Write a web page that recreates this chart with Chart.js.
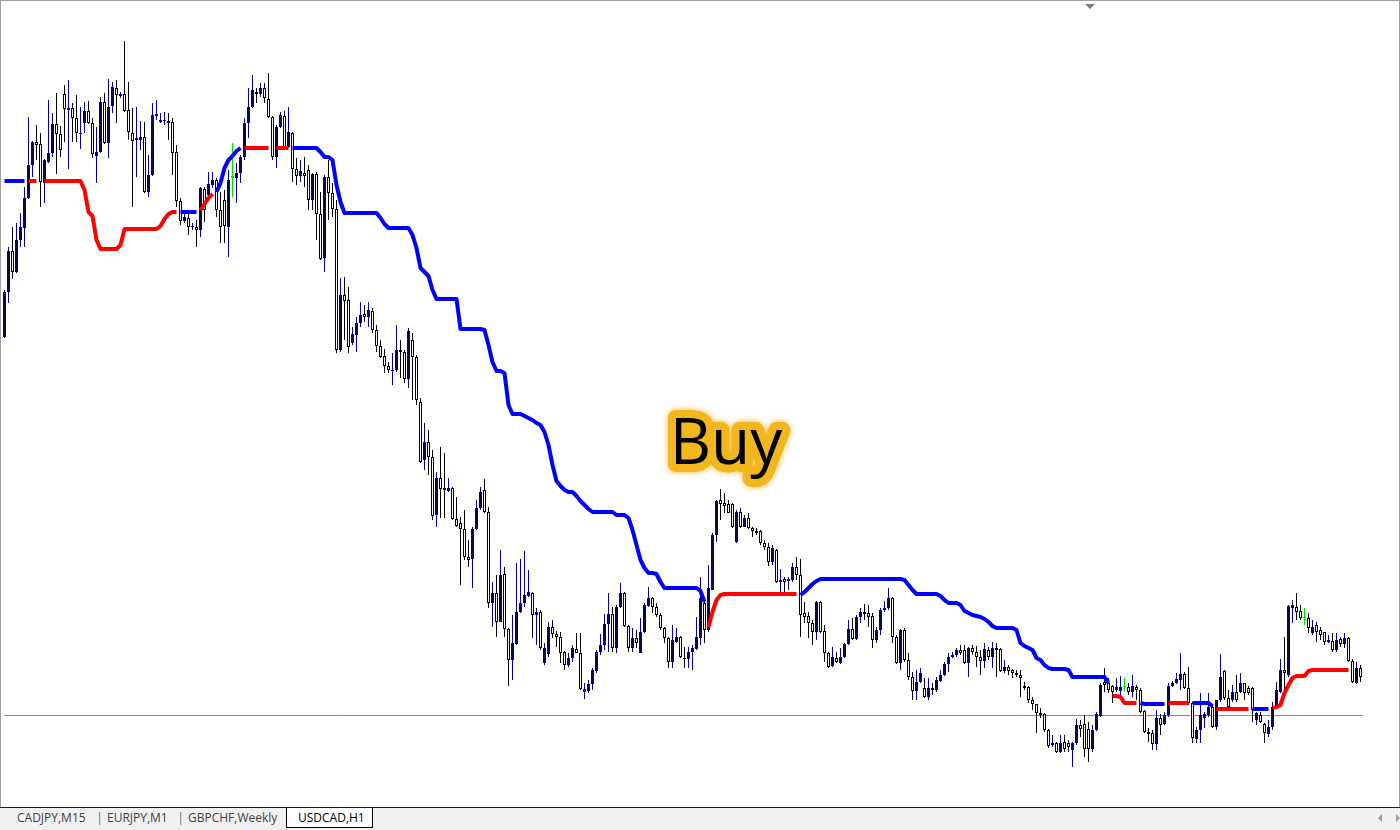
<!DOCTYPE html>
<html><head><meta charset="utf-8">
<script src="https://cdn.jsdelivr.net/npm/chart.js@4.4.1/dist/chart.umd.min.js"></script>
<style>
html,body{margin:0;padding:0;background:#fff;width:1400px;height:830px;overflow:hidden;font-family:"Open Sans",sans-serif}
#c{position:absolute;left:0;top:0}
.bl{position:absolute;background:#a0a0a0}
#tabbar{position:absolute;left:0;top:807px;width:1400px;height:23px;background:#f0f0f0;border-top:1px solid #1a1a1a;box-sizing:border-box}
.tab{position:absolute;top:810px;font-size:12px;line-height:16px;color:#404040;white-space:nowrap}
#active{position:absolute;left:286px;top:808px;width:87px;height:20px;background:#fff;border:1px solid #000;border-top:none;box-sizing:border-box}
.sep{position:absolute;top:809px;font-size:13px;line-height:17px;color:#707070}
#tri{position:absolute;left:1085px;top:4px;width:0;height:0;border-left:5px solid transparent;border-right:5px solid transparent;border-top:5px solid #7a7a8a}
.arl{position:absolute;top:814px;width:0;height:0;border-top:4px solid transparent;border-bottom:4px solid transparent}
</style></head>
<body>
<canvas id="c" width="1400" height="807"></canvas>
<div class="bl" style="left:0;top:0;width:1px;height:807px"></div>
<div class="bl" style="left:0;top:0;width:1400px;height:1px"></div>
<div class="bl" style="left:1399px;top:0;width:1px;height:807px"></div>
<div id="tri"></div>
<div id="tabbar"></div>
<div class="tab" style="left:17px">CADJPY,M15</div>
<div class="sep" style="left:96px">|</div>
<div class="tab" style="left:107px">EURJPY,M1</div>
<div class="sep" style="left:177px">|</div>
<div class="tab" style="left:188px">GBPCHF,Weekly</div>
<div id="active"></div>
<div class="tab" style="left:298px;color:#000">USDCAD,H1</div>
<div class="arl" style="left:1378px;border-right:4px solid #9a9a9a"></div>
<div class="arl" style="left:1396px;border-left:4px solid #9a9a9a"></div>
<script>
// USDCAD H1 price data (in points)
const candleOpen=[
663,708,749,728,760,772,802,835,858,856,
817,838,847,876,866,906,890,892,882,866,
877,889,877,844,848,898,857,894,912,904,
906,890,867,860,860,863,808,825,884,878,
879,879,878,848,799,779,782,773,773,770,
811,805,815,820,790,800,773,824,822,827,
843,877,893,908,906,912,901,883,843,873,
884,853,867,831,824,827,830,800,826,786,
742,823,807,791,650,705,700,657,665,677,
686,683,689,670,654,644,634,629,630,650,
648,621,660,643,598,540,558,543,485,522,
512,509,512,481,477,471,443,441,471,492,
510,488,397,407,378,426,371,340,356,388,
397,404,407,385,388,337,346,373,366,363,
348,335,342,351,347,308,309,316,329,348,
355,376,386,352,393,407,374,352,362,347,
368,394,402,393,385,372,362,338,358,363,
342,341,348,351,362,397,370,410,465,500,
497,496,496,458,488,473,482,472,469,469,
457,453,438,450,418,421,419,420,433,425,
387,384,377,368,398,369,347,334,342,337,
343,356,371,361,383,388,387,384,360,370,
390,392,402,363,337,370,340,323,309,318,
312,303,312,310,319,325,336,343,345,350,
350,337,352,348,343,339,350,343,352,351,
329,333,330,327,325,314,313,300,296,287,
286,270,255,257,248,258,257,250,257,275,
276,271,251,270,284,318,317,314,310,309,
314,313,308,313,310,289,268,267,256,282,
276,285,314,317,320,326,312,297,261,270,
282,285,293,273,300,329,302,300,308,308,
317,312,312,280,285,276,266,273,293,308,
330,325,392,393,389,383,382,367,375,370,
368,358,359,350,361,356,362,339,317,332];
const candleHigh=[
710,753,773,777,787,813,883,859,875,867,
841,900,887,907,874,915,920,897,905,893,
898,899,882,873,903,907,921,918,920,908,
959,918,892,893,879,878,845,897,900,887,
888,887,882,855,802,788,787,777,780,813,
813,828,828,822,808,810,830,857,837,845,
882,912,925,912,917,917,927,884,875,888,
889,893,868,842,840,843,835,827,828,808,
825,840,817,800,722,723,713,673,683,698,
695,698,692,675,660,651,638,647,675,660,
650,672,667,645,602,577,570,550,528,553,
547,522,513,503,483,490,460,473,500,513,
521,493,418,425,450,433,372,385,437,441,
449,430,408,392,390,357,378,380,369,368,
349,347,355,367,367,317,320,332,350,366,
386,407,393,395,417,408,375,372,370,382,
397,413,403,397,387,373,363,375,372,364,
353,353,355,383,423,400,435,467,500,511,
507,500,497,490,492,485,487,473,472,470,
460,457,455,451,431,423,423,437,443,441,
398,388,380,399,399,375,348,353,348,352,
357,380,382,385,392,396,395,387,373,392,
399,412,403,365,371,372,347,328,330,332,
322,322,317,323,330,338,347,348,352,355,
355,353,355,354,350,357,353,358,357,352,
340,335,331,330,330,318,314,303,296,292,
287,271,265,258,265,265,260,258,281,280,
285,278,275,288,317,332,322,315,322,324,
322,317,325,315,312,290,272,270,290,286,
288,317,319,327,347,328,333,298,273,307,
288,307,296,300,346,330,310,315,325,327,
317,314,313,288,288,277,280,298,318,341,
363,395,400,407,395,392,387,380,378,373,
368,365,367,367,363,367,363,341,338,335];
const candleLow=[
662,697,721,727,753,753,801,823,840,793,
797,837,843,826,843,858,831,858,858,851,
867,876,842,817,847,856,842,887,877,902,
888,860,793,823,850,807,803,824,880,877,
875,860,825,793,775,777,765,770,753,763,
778,802,812,783,757,757,743,803,797,817,
840,862,892,897,903,897,882,840,832,872,
852,852,818,815,818,813,790,790,760,740,
728,780,783,647,648,660,647,655,648,673,
678,673,667,648,642,627,627,615,628,622,
617,612,600,595,537,530,525,480,473,482,
482,508,480,473,415,440,433,412,470,490,
487,392,373,363,378,363,314,320,355,387,
393,403,362,355,350,335,343,362,353,337,
330,333,338,347,310,301,307,310,327,345,
350,348,348,347,392,373,348,348,352,347,
367,393,387,383,370,357,332,332,357,342,
332,332,330,350,355,357,368,410,458,480,
487,487,472,457,472,473,471,463,465,455,
450,434,435,417,408,408,410,418,420,363,
377,362,355,360,367,338,332,333,337,336,
342,355,360,360,377,380,373,352,357,365,
388,390,357,336,330,338,320,300,300,317,
302,300,305,308,318,324,328,342,343,345,
336,323,345,333,325,332,340,332,323,328,
327,325,322,323,303,310,297,290,267,282,
268,252,253,247,247,248,248,233,255,263,
243,238,248,269,283,308,307,297,308,305,
308,305,303,300,287,267,258,250,250,265,
275,283,313,316,310,311,295,257,257,257,
272,283,272,270,298,300,292,298,298,307,
300,305,278,275,277,257,263,270,293,307,
307,323,377,380,380,375,367,365,358,360,
355,357,348,348,353,352,338,317,316,318];
const candleClose=[
708,749,728,760,773,802,835,858,855,818,
840,847,876,866,850,891,892,882,867,867,
889,877,846,848,898,857,893,913,905,906,
889,868,859,862,863,808,825,885,886,880,
880,877,847,799,779,783,773,774,770,812,
790,816,820,790,773,774,820,822,827,843,
877,893,910,906,912,902,883,843,873,885,
853,868,831,824,829,824,800,826,786,741,
823,807,791,650,705,699,653,666,677,685,
683,690,670,654,643,634,630,630,650,648,
621,669,643,600,538,558,543,484,522,511,
510,512,481,474,471,443,440,471,492,508,
488,397,407,378,425,371,340,357,388,397,
405,408,385,388,352,352,373,366,363,347,
335,342,352,347,311,311,316,330,348,355,
376,386,352,393,407,374,352,362,357,368,
395,402,393,385,372,362,338,360,363,343,
341,348,352,363,402,370,412,465,499,496,
494,487,473,488,473,482,472,469,467,457,
453,438,452,418,420,418,421,433,425,385,
383,377,368,398,368,347,333,343,338,343,
356,371,361,383,388,386,383,360,370,390,
392,402,363,337,370,340,323,309,318,327,
303,312,310,320,325,336,343,345,350,347,
337,352,348,343,339,351,343,352,350,329,
333,329,327,325,322,312,300,296,287,285,
270,254,257,248,257,251,253,257,275,271,
251,251,270,286,315,315,310,308,313,313,
313,308,314,310,288,268,266,256,282,275,
285,314,317,321,326,312,297,262,270,285,
286,293,273,300,323,302,293,308,300,317,
307,307,290,287,278,267,273,293,310,330,
327,394,395,388,382,382,372,373,368,365,
358,360,350,360,356,362,339,318,332,323];
// trend stop level per bar
const stLevel=[
819,819,819,819,819,819,819,819,819,null,
819,819,819,819,819,819,819,819,819,819,
810,788,784,760,751,751,751,751,751,755,
771,771,771,771,771,771,771,771,771,774,
781,786,788,788,788,788,788,788,788,790,
796,802,806,808,817,832,840,844,849,852,
852,852,852,852,852,852,852,null,852,852,
852,852,852,852,852,852,852,852,852,848,
843,843,840,815,798,787,787,787,787,787,
787,787,787,787,782,776,772,772,772,772,
772,772,765,752,732,728,724,710,701,701,
701,701,701,701,671,671,671,671,671,671,
670,655,638,629,629,627,595,586,586,586,
584,582,580,577,575,568,555,535,519,514,
510,508,508,504,499,495,491,488,488,488,
488,488,488,485,485,485,482,470,455,440,
432,427,427,426,418,412,412,412,412,412,
412,412,412,412,409,398,373,388,400,405,
406,406,406,406,406,406,406,406,406,406,
406,406,406,406,406,406,406,406,406,405,
408,412,416,419,421,421,421,421,421,421,
421,421,421,421,421,421,421,421,421,421,
421,421,421,421,421,420,415,410,406,406,
406,406,406,406,404,400,397,397,397,395,
389,387,385,384,383,381,378,374,372,372,
372,372,372,370,357,354,352,350,342,340,
335,332,331,331,331,331,330,323,323,323,
323,323,323,323,323,323,317,304,304,303,
297,297,297,297,297,296,296,296,296,296,
296,297,297,297,297,297,297,297,297,297,
297,297,294,291,291,291,291,291,291,291,
291,291,291,291,291,291,291,292,293,295,
307,315,322,324,324,324,329,330,330,330,
330,330,330,330,330,330,330,null,null,null];
// trend direction runs: [direction, bars]  1 = up (red), -1 = down (blue), 0 = none
const trendRuns=[[-1,6],[1,3],[0,1],[1,34],[-1,5],[1,4],[-1,7],[1,7],[0,1],[1,4],[-1,104],[1,23],[-1,78],[1,7],[-1,7],[1,6],[-1,6],[1,9],[-1,5],[1,20],[0,3]];
const greenBars=[57,280,325];
const priceLevel=284.5;
const buyLabel={text:'Buy',bar:166.3,price:536};

const n=candleOpen.length;
const trendDir=[];
trendRuns.forEach(([d,c])=>{for(let k=0;k<c;k++)trendDir.push(d);});
const bodies=[],wicks=[],bodyFill=[],bodyBorder=[],wickCol=[];
for(let i=0;i<n;i++){
  bodies.push({x:i,y:[candleOpen[i],candleClose[i]]});
  wicks.push({x:i,y:[candleLow[i],candleHigh[i]]});
  const up=candleClose[i]>candleOpen[i];
  if(greenBars.includes(i)){bodyFill.push('#00e000');bodyBorder.push('#00e000');wickCol.push('#00e000');}
  else if(up){bodyFill.push('#0a0a40');bodyBorder.push('#000080');wickCol.push('#0000a0');}
  else{bodyFill.push('#ffffff');bodyBorder.push('#000000');wickCol.push('#000000');}
}
const upLine=stLevel.map((v,i)=>({x:i,y:trendDir[i]===1?v:null}));
const dnLine=stLevel.map((v,i)=>({x:i,y:trendDir[i]===-1?v:null}));

const buyPlugin={id:'buy',afterDatasetsDraw(chart){
  const ctx=chart.ctx,xs=chart.scales.x,ys=chart.scales.y;
  const px=xs.getPixelForValue(buyLabel.bar),py=ys.getPixelForValue(buyLabel.price);
  ctx.save();
  ctx.font='64px "Open Sans"';
  ctx.textAlign='left';ctx.textBaseline='alphabetic';
  ctx.lineJoin='round';
  ctx.shadowColor='rgba(240,176,20,0.9)';ctx.shadowBlur=6;
  ctx.strokeStyle='#f2b61e';ctx.lineWidth=16;
  ctx.strokeText(buyLabel.text,px,py);
  ctx.shadowBlur=0;ctx.shadowColor='transparent';
  ctx.fillStyle='#000000';
  ctx.fillText(buyLabel.text,px,py);
  ctx.restore();
}};

new Chart(document.getElementById('c'),{
  data:{datasets:[
    {type:'line',data:upLine,borderColor:'#ff0000',borderWidth:4,pointRadius:0,spanGaps:false,tension:0,borderCapStyle:'butt',borderJoinStyle:'round',order:0},
    {type:'line',data:dnLine,borderColor:'#0000ff',borderWidth:4,pointRadius:0,spanGaps:false,tension:0,borderCapStyle:'butt',borderJoinStyle:'round',order:0},
    {type:'bar',data:bodies,backgroundColor:bodyFill,borderColor:bodyBorder,borderWidth:1,borderSkipped:false,barThickness:3,grouped:false,minBarLength:1,inflateAmount:0,order:1},
    {type:'bar',data:wicks,backgroundColor:wickCol,borderWidth:0,barThickness:1,grouped:false,minBarLength:1,inflateAmount:0,order:2},
    {type:'line',data:[{x:-0.125,y:priceLevel},{x:n-1+0.625,y:priceLevel}],borderColor:'#8a8a8a',borderWidth:1,pointRadius:0,order:3}
  ]},
  options:{
    responsive:false,animation:false,devicePixelRatio:1,events:[],
    layout:{padding:0},
    plugins:{legend:{display:false},tooltip:{enabled:false}},
    scales:{
      x:{type:'linear',min:-1.125,max:348.875,offset:false,bounds:'data',display:false},
      y:{type:'linear',min:193,max:1000,display:false}
    }
  },
  plugins:[buyPlugin]
});
</script>
</body></html>
